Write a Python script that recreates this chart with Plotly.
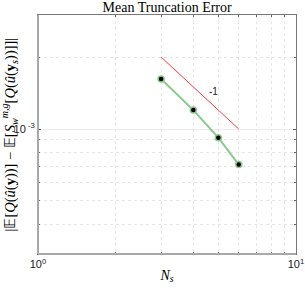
import plotly.graph_objects as go
import numpy as np

# Data
Ns = [3, 4, 5, 6]
err = [1.62e-3, 1.20e-3, 9.2e-4, 7.1e-4]
ref_x = [3, 6]
ref_y = [2e-3, 1e-3]
ref_label = "-1"
x_major = [1, 10]
x_major_text = ["10<sup>0</sup>", "10<sup>1</sup>"]
x_minor = [2, 3, 4, 5, 6, 7, 8, 9]
y_major = [1e-3]
y_major_text = ["10<sup> -3</sup>"]
y_minor = [3e-4, 4e-4, 5e-4, 6e-4, 7e-4, 8e-4, 9e-4, 2e-3]

fig = go.Figure()
fig.add_trace(go.Scatter(x=ref_x, y=ref_y, mode="lines",
                         line=dict(color="#ff3b3b", width=1), showlegend=False))
fig.add_trace(go.Scatter(x=Ns, y=err, mode="lines+markers",
                         line=dict(color="#8cc98c", width=2),
                         marker=dict(color="black", size=6,
                                     line=dict(color="#8cc98c", width=1.5)),
                         showlegend=False))

fig.add_annotation(x=np.log10(4.77), y=np.log10(1.43e-3), text=ref_label,
                   showarrow=False, font=dict(family="Liberation Sans", size=10, color="#222"))

ytitle = ("|𝔼[<i>Q</i>(<i>û</i>(<b>y</b>))] − 𝔼[<i>S</i><sub><i>w</i></sub><sup><i>m,g</i></sup>"
          "[<i>Q</i>(<i>û</i>(<b>y</b><sub><i>s</i></sub>))]]|")
fig.add_annotation(x=0, y=0.5, xref="paper", yref="paper", text=ytitle, textangle=-90,
                   showarrow=False, xanchor="center", yanchor="middle", xshift=-29,
                   font=dict(family="Liberation Serif", size=14.5, color="black"))

axis_common = dict(showline=True, mirror="ticks", linecolor="#777", linewidth=1,
                   ticks="inside", ticklen=3, tickcolor="#555", zeroline=False,
                   showgrid=True, gridcolor="#ececec", gridwidth=1, automargin=False,
                   tickfont=dict(family="Liberation Sans", size=11, color="#222"))

minor_common = dict(tickmode="array", ticks="inside", ticklen=2, tickcolor="#666",
                    showgrid=True, gridcolor="#e6e6e6", griddash="dot", gridwidth=1)

fig.update_xaxes(type="log", range=[0, 1], tickmode="array", tickvals=x_major,
                 ticktext=x_major_text, minor=dict(tickvals=x_minor, **minor_common),
                 title=dict(text="<i>N<sub>s</sub></i>", standoff=0,
                            font=dict(family="Liberation Serif", size=14, color="black")),
                 **axis_common)
fig.update_yaxes(type="log", range=[np.log10(3e-4), np.log10(3e-3)], tickmode="array",
                 tickvals=y_major, ticktext=y_major_text,
                 minor=dict(tickvals=y_minor, **minor_common),
                 **axis_common)

fig.add_shape(type="line", xref="paper", yref="paper", x0=0, x1=0, y0=0, y1=1,
              line=dict(color="#a8a8a8", width=2), layer="above")
fig.add_shape(type="line", xref="paper", yref="paper", x0=0, x1=1, y0=0, y1=0,
              line=dict(color="#a8a8a8", width=2), layer="above")

fig.update_layout(
    width=305, height=290,
    margin=dict(l=38, r=9, t=15, b=36),
    paper_bgcolor="white", plot_bgcolor="white",
    title=dict(text="Mean Truncation Error", x=0.548, xanchor="center", y=0.991, yanchor="top",
               font=dict(family="Liberation Serif", size=14, color="black")),
)

fig.write_html("out.html", config={"displayModeBar": False},
               post_script="document.body.style.margin='0';")
